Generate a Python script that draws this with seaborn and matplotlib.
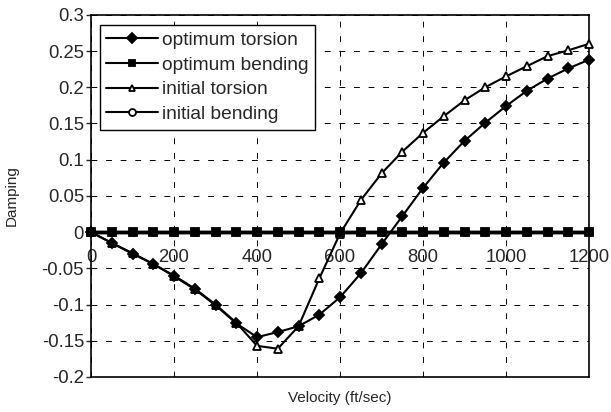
import numpy as np
import pandas as pd
import matplotlib
matplotlib.use("Agg")
import matplotlib.pyplot as plt
from matplotlib.ticker import FuncFormatter, MultipleLocator
import seaborn as sns

# velocity (ft/sec)
velocity = [0, 50, 100, 150, 200, 250, 300, 350, 400, 450, 500, 550, 600,
            650, 700, 750, 800, 850, 900, 950, 1000, 1050, 1100, 1150, 1200]

# damping values
optimum_torsion = [0, -0.015, -0.030, -0.044, -0.061, -0.079, -0.101, -0.126, -0.145,
                   -0.138, -0.130, -0.114, -0.090, -0.057, -0.017, 0.022, 0.061,
                   0.096, 0.126, 0.151, 0.174, 0.195, 0.212, 0.226, 0.238]
optimum_bending = [0.0] * 25
initial_torsion = [0, -0.015, -0.029, -0.044, -0.060, -0.078, -0.100, -0.125, -0.157,
                   -0.161, -0.130, -0.064, -0.002, 0.044, 0.081, 0.111, 0.137,
                   0.160, 0.182, 0.200, 0.215, 0.229, 0.243, 0.251, 0.260]
initial_bending = [0.0] * 25

series_names = ['optimum torsion', 'optimum bending', 'initial torsion', 'initial bending']

df = pd.DataFrame({'Velocity': velocity,
                   'optimum torsion': optimum_torsion,
                   'optimum bending': optimum_bending,
                   'initial torsion': initial_torsion,
                   'initial bending': initial_bending})

sns.set_style("white")
plt.rcParams['font.family'] = ['Liberation Sans', 'DejaVu Sans']

fig = plt.figure(figsize=(6.11, 4.12), dpi=100)
ax = fig.add_axes([0.149, 0.085, 0.815, 0.879])

# marker styles per series (drawn so bending squares sit on top)
styles = {
    'optimum torsion': dict(marker='D', markersize=5.5, markerfacecolor='black', linewidth=1.5, zorder=4),
    'optimum bending': dict(marker='s', markersize=6, markerfacecolor='black', linewidth=2.5, zorder=6),
    'initial torsion': dict(marker='^', markersize=6, markerfacecolor='white', linewidth=1.5, zorder=3),
    'initial bending': dict(marker='o', markersize=5, markerfacecolor='white', linewidth=2.5, zorder=5),
}

for name in series_names:
    st = styles[name]
    sns.lineplot(data=df, x='Velocity', y=name, ax=ax, color='black', label=name,
                 marker=st['marker'], markersize=st['markersize'],
                 markerfacecolor=st['markerfacecolor'], markeredgecolor='black',
                 markeredgewidth=1.3, linewidth=st['linewidth'], zorder=st['zorder'],
                 clip_on=False)

ax.set_xlim(0, 1200)
ax.set_ylim(-0.2, 0.3)
ax.xaxis.set_major_locator(MultipleLocator(200))
ax.yaxis.set_major_locator(MultipleLocator(0.05))
ax.yaxis.set_major_formatter(FuncFormatter(lambda v, p: '%g' % round(v, 2)))

# dashed grid
ax.grid(True, color='black', linewidth=0.7, linestyle=(0, (6, 9)))
ax.set_axisbelow(True)

# x axis crosses at zero, frame kept at the bottom
ax.spines['bottom'].set_position(('data', 0))
ax.axhline(-0.2, color='black', linewidth=1.2, clip_on=False, zorder=2)
for s in ['left', 'right', 'top', 'bottom']:
    ax.spines[s].set_color('black')
    ax.spines[s].set_linewidth(1.2)

ax.tick_params(axis='x', length=0, pad=12, labelsize=13.3)
ax.tick_params(axis='y', length=3.5, width=1, direction='out', left=True, pad=1.5, labelsize=13.3)

ax.set_xlabel('Velocity (ft/sec)', fontsize=11)
ax.set_ylabel('Damping', fontsize=11)
ax.xaxis.set_label_coords(0.5, -0.04)
ax.yaxis.set_label_coords(-0.145, 0.5)

leg = ax.legend(loc='upper left', bbox_to_anchor=(0.017, 0.972), fontsize=13.8,
                frameon=True, fancybox=False, edgecolor='black', framealpha=1,
                handlelength=2.7, handletextpad=0.2, labelspacing=0.38,
                borderpad=0.35, borderaxespad=0)
leg.get_frame().set_linewidth(1.0)
leg.set_zorder(10)
for h in leg.get_lines():
    h.set_linewidth(1.5)
    h.set_markersize(5)

plt.savefig('out.png', dpi=100)
